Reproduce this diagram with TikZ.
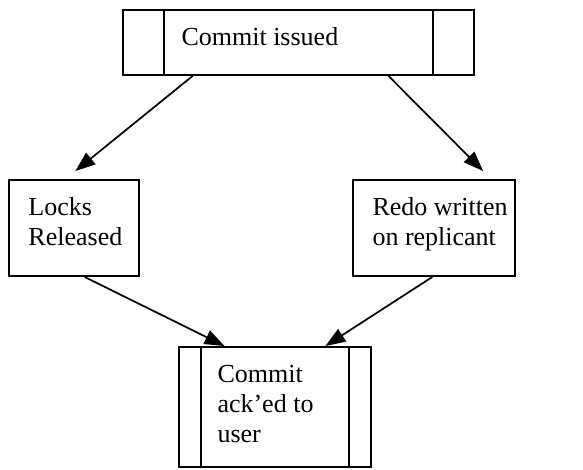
\documentclass[tikz,border=0pt]{standalone}
\usepackage{fontspec}
\setmainfont{Liberation Serif}
\usetikzlibrary{arrows.meta,calc,fit}
\tikzset{every picture/.style={line width=0.75pt}}
\tikzset{
  box/.style={draw, line width=1.4pt, inner sep=0pt},
  rule/.style={line width=1.4pt},
  boxtext/.style={anchor=north west, inner sep=0pt, align=left, font=\fontsize{19.5}{22.5}\selectfont},
  flow/.style={line width=1.3pt, -{Triangle[length=15pt,width=11pt]}}
}

\begin{document}
\begin{tikzpicture}[x=0.75pt,y=0.75pt,yscale=-1,xscale=1]
\useasboundingbox (0,0) rectangle (583,470);

%Boxes
\node[box, fit={(123,10) (474,75)}] (issued) {};
\node[box, fit={(9,180) (139,276)}] (locks) {};
\node[box, fit={(353,180) (515,276)}] (redo) {};
\node[box, fit={(179,347) (371,467)}] (acked) {};

%Side rules of the process boxes
\draw[rule] ($(issued.north west)+(42,0)$) -- ($(issued.south west)+(42,0)$);
\draw[rule] ($(issued.north east)+(-42,0)$) -- ($(issued.south east)+(-42,0)$);
\draw[rule] ($(acked.north west)+(23,0)$) -- ($(acked.south west)+(23,0)$);
\draw[rule] ($(acked.north east)+(-23,0)$) -- ($(acked.south east)+(-23,0)$);

% Text Node
\node[boxtext] (issuedtxt) at (181,27) {Commit issued};
% Text Node
\node[boxtext] (lockstxt) at (28,197) {Locks\\Released};
% Text Node
\node[boxtext] (redotxt) at (372,197) {Redo written\\on replicant};
% Text Node
\node[boxtext] (ackedtxt) at (217,365) {Commit\\ack’ed to\\user};

%Arrows
\draw[flow] ($(issued.south west)!0.2!(issued.south east)$) -- ($(locks.north west)!0.51!(locks.north east)+(0,-8)$);
\draw[flow] ($(issued.south west)!0.755!(issued.south east)$) -- ($(redo.north west)!0.8!(redo.north east)+(0,-8)$);
\draw[flow] ($(locks.south west)!0.58!(locks.south east)$) -- ($(acked.north west)!0.24!(acked.north east)$);
\draw[flow] ($(redo.south west)!0.49!(redo.south east)$) -- ($(acked.north west)!0.76!(acked.north east)$);

\end{tikzpicture}
\end{document}
